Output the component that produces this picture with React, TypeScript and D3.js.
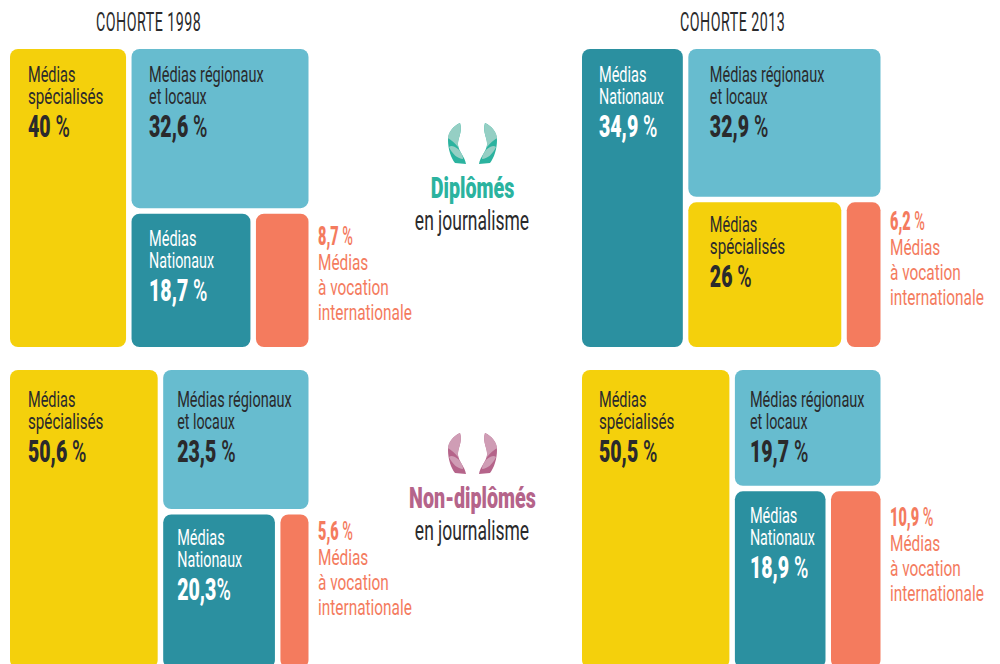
import React from "react";
import * as d3 from "d3";

const cohortTitles = ["COHORTE 1998", "COHORTE 2013"];
const specialises = ["Médias", "spécialisés"];
const regionaux = ["Médias régionaux", "et locaux"];
const nationaux = ["Médias", "Nationaux"];
const international = ["Médias", "à vocation", "internationale"];

// order in each panel: main column, top right, bottom middle, bottom small
const dipl1998Names = [specialises, regionaux, nationaux, international];
const dipl1998Values = [40, 32.6, 18.7, 8.7];
const dipl1998Labels = ["40", "32,6", "18,7", "8,7"];
const dipl2013Names = [nationaux, regionaux, specialises, international];
const dipl2013Values = [34.9, 32.9, 26, 6.2];
const dipl2013Labels = ["34,9", "32,9", "26", "6,2"];
const non1998Names = [specialises, regionaux, nationaux, international];
const non1998Values = [50.6, 23.5, 20.3, 5.6];
const non1998Labels = ["50,6", "23,5", "20,3", "5,6"];
const non2013Names = [specialises, regionaux, nationaux, international];
const non2013Values = [50.5, 19.7, 18.9, 10.9];
const non2013Labels = ["50,5", "19,7", "18,9", "10,9"];

const YELLOW = "#f4d00c";
const BLUE = "#67bccf";
const TEAL = "#2b90a0";
const CORAL = "#f47b5e";
const DARK = "#2a2a2c";
const WHITE = "#ffffff";
const FONT = "Roboto, sans-serif";
const SX = 0.66;
const SXB = 0.63;

const colourOf = (n: string[]) =>
  n === specialises ? YELLOW : n === regionaux ? BLUE : n === nationaux ? TEAL : CORAL;
const inkOf = (n: string[]) => (n === nationaux ? WHITE : DARK);

const GAP = 2.75;
const PW = 298.5;
const PH = 298;

function T({ x, y, size, weight = 400, fill, sx = SX, anchor = "start", spacing = 0, children }: any) {
  return (
    <text
      transform={`translate(${x},${y}) scale(${sx},1)`}
      fontFamily={FONT}
      fontSize={size}
      fontWeight={weight}
      fill={fill}
      textAnchor={anchor}
      letterSpacing={spacing}
    >
      {children}
    </text>
  );
}

function Tile({ x0, x1, y0, y1, fill }: any) {
  return <rect x={x0} y={y0} width={x1 - x0} height={y1 - y0} rx={8} ry={8} fill={fill} />;
}

function TileText({ x, y, names, label, ink, dy = 0 }: any) {
  return (
    <g>
      <T x={x} y={y + dy} size={22} fill={ink}>{names[0]}</T>
      <T x={x} y={y + dy + 22} size={22} fill={ink} sx={names === specialises ? 0.69 : 0.65}>{names[1]}</T>
      <T x={x} y={y + dy + 55} size={31} weight={900} fill={ink} sx={SXB}>
        {label}
      </T>
    </g>
  );
}

function Panel({ x0, y0, names, values, labels, inset, firstDy, midDy, sideX, sideY, pctSpace }: any) {
  const xs = d3.scaleLinear().domain([0, 100]).range([x0 - 0.6, x0 + PW - 0.6]);
  const split1 = xs(values[0]);
  const rest = values[1] + values[2] + values[3];
  const ys = d3.scaleLinear().domain([0, rest]).range([y0, y0 + PH]);
  const split2 = ys(values[1]);
  const xb = d3
    .scaleLinear()
    .domain([0, values[2] + values[3]])
    .range([split1 + GAP * 2, x0 + PW]);
  const split3 = xb(values[2]);
  const pct = (i: number) => (
    <>
      {labels[i]}
      {i === pctSpace ? "" : " "}
      <tspan fontWeight={500}>%</tspan>
    </>
  );
  return (
    <g>
      <Tile x0={x0} x1={split1 - GAP} y0={y0} y1={y0 + PH} fill={colourOf(names[0])} />
      <Tile x0={split1 + GAP} x1={x0 + PW} y0={y0} y1={split2 - GAP} fill={colourOf(names[1])} />
      <Tile x0={split1 + GAP} x1={split3 - GAP} y0={split2 + GAP} y1={y0 + PH} fill={colourOf(names[2])} />
      <Tile x0={split3 + GAP} x1={x0 + PW} y0={split2 + GAP} y1={y0 + PH} fill={colourOf(names[3])} />
      <TileText x={x0 + inset[0]} y={y0} dy={firstDy} names={names[0]} label={pct(0)} ink={inkOf(names[0])} />
      <TileText x={split1 + GAP + inset[1]} y={y0} dy={firstDy} names={names[1]} label={pct(1)} ink={inkOf(names[1])} />
      <TileText x={split1 + GAP + inset[1]} y={split2 + GAP} dy={midDy} names={names[2]} label={pct(2)} ink={inkOf(names[2])} />
      <T x={sideX} y={sideY} size={25} weight={900} fill={CORAL} sx={0.58}>{pct(3)}</T>
      <T x={sideX} y={sideY + 25} size={22} fill={CORAL} sx={0.7}>{names[3][0]}</T>
      <T x={sideX} y={sideY + 50} size={22} fill={CORAL} sx={0.7}>{names[3][1]}</T>
      <T x={sideX} y={sideY + 75} size={22} fill={CORAL} sx={0.7}>{names[3][2]}</T>
    </g>
  );
}

const hornOuter = "M460,123 C453,126 448,133 448,140 C448,149 451,158 455,163 L466,164 C465,157 459,152 458,145 C457,139 463,132 460,123 Z";
const hornTop = "M460,123 C453,126 448,133 448,138 C451,140 455,143 458,147 C457,139 463,132 460,123 Z";
const hornMid = "M449,147 C451,145 454,146 458,149 C460,151 463,155 463,159 C458,159 452,154 449,147 Z";

function Horn({ dark, light, dy }: any) {
  const one = (
    <>
      <path d={hornOuter} fill={dark} />
      <path d={hornTop} fill={light} />
      <path d={hornMid} fill={light} />
    </>
  );
  return (
    <g transform={`translate(0,${dy})`}>
      <g>{one}</g>
      <g transform="translate(945,0) scale(-1,1)">{one}</g>
    </g>
  );
}

export default function App() {
  return (
    <svg
      width={1000}
      height={664}
      viewBox="0 0 1000 664"
      style={{ position: "absolute", left: 0, top: 0, display: "block", background: "#fff" }}
    >
      <T x={96} y={31} size={25} fill={DARK} sx={0.57} spacing={0.85}>{cohortTitles[0]}</T>
      <T x={680} y={31} size={25} fill={DARK} sx={0.57} spacing={0.85}>{cohortTitles[1]}</T>

      <Panel x0={10} y0={49} names={dipl1998Names} values={dipl1998Values} labels={dipl1998Labels}
        inset={[18, 17.5]} firstDy={33} midDy={32} sideX={318} sideY={245} />
      <Panel x0={582} y0={49} names={dipl2013Names} values={dipl2013Values} labels={dipl2013Labels}
        inset={[17, 21.5]} firstDy={33} midDy={30} sideX={890} sideY={230} />
      <Panel x0={10} y0={370} names={non1998Names} values={non1998Values} labels={non1998Labels}
        inset={[18, 14]} firstDy={37} midDy={30} sideX={318} sideY={540} pctSpace={2} />
      <Panel x0={582} y0={370} names={non2013Names} values={non2013Values} labels={non2013Labels}
        inset={[17, 15]} firstDy={37} midDy={32} sideX={890} sideY={526} />

      <Horn dark="#2bb39f" light="#95cfc4" dy={0} />
      <T x={472.5} y={198} size={29} weight={900} fill="#2bb39f" anchor="middle" sx={0.68}>Diplômés</T>
      <T x={472} y={230} size={27} fill={DARK} anchor="middle" sx={0.648}>en journalisme</T>

      <Horn dark="#b5648a" light="#cf9db5" dy={310} />
      <T x={472.5} y={508} size={29} weight={900} fill="#b5648a" anchor="middle" sx={0.68}>Non-diplômés</T>
      <T x={472} y={540} size={27} fill={DARK} anchor="middle" sx={0.648}>en journalisme</T>
    </svg>
  );
}
